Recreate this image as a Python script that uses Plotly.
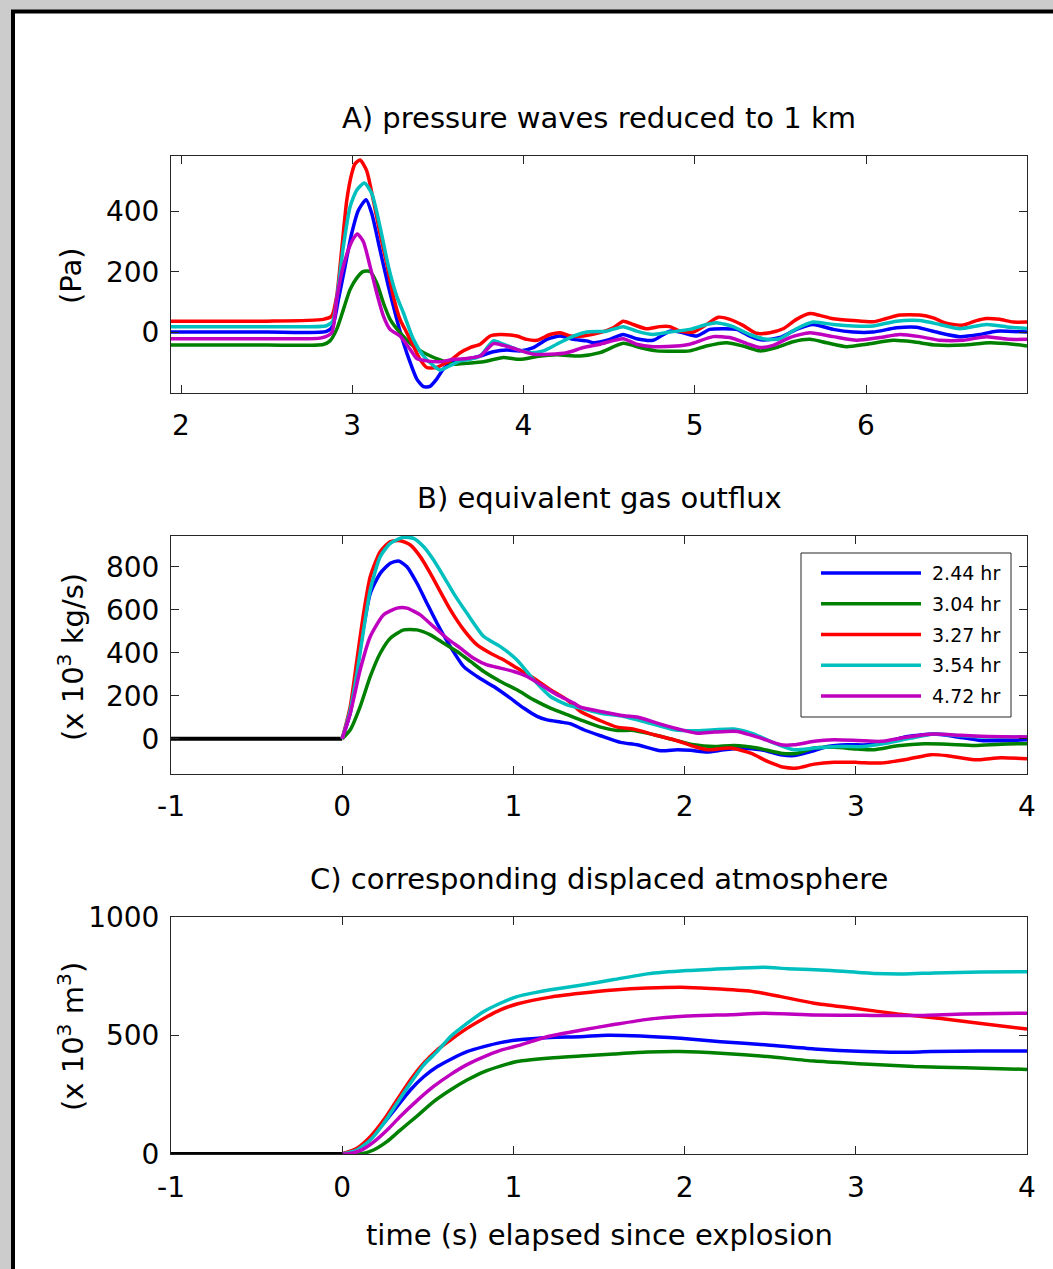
import plotly.graph_objects as go

W, H = 1053, 1269

labels = ["2.44 hr", "3.04 hr", "3.27 hr", "3.54 hr", "4.72 hr"]
colors = ["#0000ff", "#008000", "#ff0000", "#00bfbf", "#bf00bf"]

# ---------------- Panel A: pressure waves reduced to 1 km (Pa) ----------------
a_t_blue = [1.94, 2.5, 2.85, 2.886, 2.919, 2.958, 2.997, 3.036, 3.081, 3.114, 3.162, 3.211, 3.260, 3.299, 3.338, 3.377, 3.416, 3.454, 3.493, 3.532, 3.591, 3.669, 3.747, 3.824, 3.902, 3.980, 4.058, 4.136, 4.214, 4.292, 4.370, 4.407, 4.504, 4.582, 4.660, 4.757, 4.854, 4.932, 5.010, 5.088, 5.166, 5.243, 5.321, 5.399, 5.497, 5.594, 5.691, 5.808, 5.925, 6.041, 6.178, 6.294, 6.411, 6.547, 6.664, 6.761, 6.940]
a_v_blue = [1, 1, 3, 21, 108, 218, 327, 403, 438, 392, 272, 152, 43, -34, -99, -154, -179, -178, -154, -121, -94, -89, -78, -64, -58, -61, -50, -23, -12, -23, -28, -34, -23, -7, -21, -26, 4, -1, -12, 10, 12, 10, -12, -25, -17, 10, 26, 10, 1, 1, 15, 17, 1, -14, -7, 4, 1]

a_t_green = [1.94, 2.5, 2.83, 2.870, 2.909, 2.948, 2.987, 3.026, 3.065, 3.104, 3.143, 3.182, 3.221, 3.279, 3.357, 3.435, 3.513, 3.591, 3.669, 3.766, 3.883, 3.980, 4.078, 4.194, 4.331, 4.446, 4.582, 4.679, 4.776, 4.971, 5.068, 5.185, 5.282, 5.380, 5.477, 5.574, 5.672, 5.769, 5.886, 6.003, 6.158, 6.275, 6.411, 6.567, 6.723, 6.859, 6.940]
a_v_green = [-42, -42, -40, -28, 10, 75, 141, 179, 201, 201, 163, 97, 43, -1, -45, -72, -91, -105, -102, -97, -83, -89, -80, -74, -78, -67, -36, -50, -61, -61, -45, -34, -45, -61, -50, -31, -23, -34, -47, -39, -26, -31, -42, -42, -34, -39, -45]

a_t_red = [1.94, 2.5, 2.831, 2.880, 2.909, 2.938, 2.968, 2.997, 3.016, 3.046, 3.084, 3.123, 3.162, 3.201, 3.240, 3.279, 3.318, 3.357, 3.396, 3.435, 3.493, 3.532, 3.571, 3.630, 3.688, 3.747, 3.805, 3.863, 3.961, 4.019, 4.078, 4.155, 4.214, 4.272, 4.350, 4.446, 4.524, 4.582, 4.640, 4.718, 4.796, 4.854, 4.913, 4.991, 5.068, 5.137, 5.205, 5.282, 5.360, 5.438, 5.516, 5.594, 5.672, 5.730, 5.808, 5.925, 6.041, 6.119, 6.197, 6.314, 6.392, 6.469, 6.567, 6.645, 6.703, 6.781, 6.859, 6.940]
a_v_red = [37, 37, 43, 54, 119, 272, 436, 524, 556, 569, 534, 436, 327, 228, 119, 43, -1, -45, -89, -116, -116, -105, -94, -67, -50, -39, -12, -7, -12, -23, -26, -7, -1, -12, -12, -1, 15, 37, 26, 12, 19, 19, 4, 1, 26, 50, 43, 23, -3, -1, 12, 43, 62, 56, 45, 39, 35, 46, 57, 57, 48, 30, 24, 39, 46, 43, 34, 34]

a_t_cyan = [1.94, 2.5, 2.85, 2.886, 2.919, 2.948, 2.987, 3.026, 3.071, 3.114, 3.162, 3.211, 3.260, 3.299, 3.357, 3.416, 3.474, 3.513, 3.571, 3.630, 3.688, 3.747, 3.824, 3.883, 3.961, 4.039, 4.116, 4.194, 4.272, 4.370, 4.485, 4.582, 4.660, 4.757, 4.854, 4.971, 5.068, 5.127, 5.224, 5.321, 5.419, 5.497, 5.594, 5.691, 5.808, 5.925, 6.041, 6.178, 6.314, 6.431, 6.547, 6.703, 6.839, 6.940]
a_v_cyan = [19, 19, 22, 37, 152, 283, 414, 469, 493, 458, 349, 218, 119, 64, -23, -78, -110, -124, -110, -94, -89, -78, -28, -39, -56, -67, -61, -39, -17, 1, 4, 19, 4, -7, 1, 10, 26, 32, 19, -7, -23, -21, 12, 34, 26, 21, 21, 37, 39, 26, 12, 26, 17, 13]

a_t_mag = [1.94, 2.5, 2.82, 2.880, 2.909, 2.938, 2.977, 3.007, 3.030, 3.065, 3.104, 3.143, 3.182, 3.221, 3.279, 3.338, 3.377, 3.435, 3.513, 3.591, 3.669, 3.747, 3.824, 3.883, 3.961, 4.058, 4.155, 4.253, 4.350, 4.446, 4.582, 4.660, 4.757, 4.893, 4.971, 5.107, 5.205, 5.302, 5.380, 5.458, 5.555, 5.672, 5.808, 5.944, 6.080, 6.197, 6.314, 6.431, 6.567, 6.703, 6.839, 6.940]
a_v_mag = [-21, -21, -18, -1, 108, 196, 272, 310, 325, 299, 218, 130, 54, 10, -12, -56, -86, -94, -97, -89, -86, -78, -37, -43, -56, -72, -72, -67, -50, -39, -21, -39, -47, -45, -39, -14, -17, -36, -50, -43, -17, -1, -14, -26, -17, -7, -14, -26, -26, -14, -23, -23]

# ---------------- Panel B: equivalent gas outflux (x 10^3 kg/s) ----------------
pre_t = [-1, 0]
pre_v = [0, 0]

b_t_blue = [0, 0.047, 0.086, 0.125, 0.164, 0.222, 0.281, 0.329, 0.378, 0.437, 0.495, 0.554, 0.632, 0.710, 0.788, 0.885, 0.982, 1.060, 1.138, 1.197, 1.275, 1.333, 1.411, 1.509, 1.626, 1.723, 1.860, 1.957, 2.035, 2.133, 2.230, 2.328, 2.445, 2.562, 2.640, 2.737, 2.835, 2.951, 3.068, 3.185, 3.302, 3.458, 3.575, 3.731, 3.868, 4.0]
b_v_blue = [0, 119, 321, 522, 677, 770, 817, 828, 801, 724, 631, 538, 429, 336, 290, 243, 189, 143, 104, 88, 78, 70, 42, 14, -17, -28, -56, -51, -54, -62, -51, -45, -51, -74, -78, -59, -36, -28, -28, -12, 11, 22, 11, -8, -9, -5]

b_t_green = [0, 0.047, 0.105, 0.164, 0.222, 0.281, 0.359, 0.437, 0.515, 0.593, 0.671, 0.749, 0.827, 0.924, 1.021, 1.119, 1.216, 1.314, 1.392, 1.509, 1.606, 1.704, 1.821, 1.938, 2.055, 2.172, 2.289, 2.425, 2.562, 2.659, 2.757, 2.873, 3.010, 3.107, 3.244, 3.400, 3.536, 3.692, 3.848, 4.0]
b_v_green = [0, 42, 150, 290, 398, 468, 507, 507, 484, 445, 406, 360, 313, 267, 228, 181, 143, 112, 88, 54, 39, 39, 19, -5, -28, -36, -31, -43, -67, -67, -43, -40, -48, -51, -33, -23, -25, -31, -25, -23]

b_t_red = [0, 0.047, 0.086, 0.125, 0.164, 0.222, 0.281, 0.339, 0.398, 0.456, 0.515, 0.573, 0.632, 0.710, 0.788, 0.866, 0.944, 1.021, 1.119, 1.216, 1.314, 1.392, 1.509, 1.606, 1.704, 1.821, 1.957, 2.055, 2.133, 2.269, 2.386, 2.484, 2.581, 2.659, 2.757, 2.873, 3.010, 3.146, 3.302, 3.439, 3.536, 3.692, 3.848, 4.0]
b_v_red = [0, 150, 367, 584, 755, 871, 918, 922, 902, 848, 770, 685, 600, 507, 437, 398, 367, 329, 282, 228, 181, 127, 84, 54, 45, 19, -9, -36, -51, -43, -67, -105, -133, -136, -118, -109, -110, -113, -95, -74, -79, -98, -88, -93]

b_t_cyan = [0, 0.047, 0.086, 0.125, 0.164, 0.222, 0.281, 0.359, 0.417, 0.476, 0.534, 0.593, 0.651, 0.729, 0.827, 0.924, 1.021, 1.119, 1.216, 1.314, 1.392, 1.509, 1.645, 1.782, 1.938, 2.055, 2.172, 2.289, 2.406, 2.523, 2.640, 2.757, 2.893, 3.049, 3.185, 3.322, 3.458, 3.614, 3.770, 4.0]
b_v_cyan = [0, 135, 305, 507, 693, 848, 910, 938, 933, 894, 832, 755, 677, 584, 476, 429, 367, 274, 197, 158, 143, 119, 104, 76, 42, 37, 42, 45, 22, -20, -51, -43, -36, -36, -20, 3, 22, 14, 8, 8]

b_t_mag = [0, 0.047, 0.105, 0.164, 0.242, 0.320, 0.378, 0.456, 0.534, 0.612, 0.690, 0.768, 0.846, 0.924, 1.002, 1.080, 1.177, 1.255, 1.353, 1.392, 1.509, 1.645, 1.723, 1.840, 1.957, 2.074, 2.172, 2.308, 2.445, 2.562, 2.640, 2.757, 2.873, 3.010, 3.146, 3.302, 3.458, 3.614, 3.770, 4.0]
b_v_mag = [0, 119, 321, 476, 577, 608, 608, 577, 522, 468, 422, 375, 344, 329, 313, 290, 243, 205, 166, 147, 127, 107, 101, 73, 47, 26, 31, 34, 3, -28, -28, -12, -5, -8, -12, 8, 22, 16, 11, 8]

# ---------------- Panel C: corresponding displaced atmosphere (x 10^3 m^3) ----------------
c_t_blue = [0, 0.086, 0.164, 0.242, 0.320, 0.398, 0.476, 0.554, 0.632, 0.729, 0.827, 0.924, 1.021, 1.216, 1.392, 1.548, 1.743, 1.977, 2.211, 2.484, 2.757, 3.049, 3.244, 3.439, 3.731, 4.0]
c_v_blue = [0, 20, 66, 129, 200, 270, 326, 368, 399, 432, 453, 470, 481, 492, 495, 501, 498, 488, 474, 460, 443, 432, 429, 432, 435, 435]

c_t_green = [0, 0.105, 0.183, 0.261, 0.339, 0.437, 0.534, 0.632, 0.729, 0.827, 0.924, 1.021, 1.216, 1.392, 1.587, 1.782, 1.977, 2.211, 2.484, 2.757, 3.049, 3.341, 3.634, 4.0]
c_v_green = [0, 0, 17, 52, 101, 160, 221, 270, 312, 347, 371, 390, 405, 413, 422, 430, 432, 425, 411, 392, 380, 369, 364, 357]

c_t_red = [0, 0.086, 0.164, 0.242, 0.320, 0.398, 0.476, 0.554, 0.632, 0.729, 0.827, 0.924, 1.021, 1.216, 1.392, 1.587, 1.782, 2.016, 2.211, 2.406, 2.562, 2.757, 2.990, 3.244, 3.497, 3.731, 4.0]
c_v_red = [0, 24, 73, 143, 228, 312, 383, 439, 481, 530, 572, 608, 633, 662, 678, 692, 700, 703, 696, 685, 664, 636, 615, 591, 572, 551, 527]

c_t_cyan = [0, 0.086, 0.164, 0.242, 0.320, 0.398, 0.476, 0.554, 0.632, 0.729, 0.827, 0.924, 1.021, 1.119, 1.216, 1.392, 1.587, 1.782, 2.016, 2.269, 2.464, 2.601, 2.854, 3.107, 3.283, 3.458, 3.731, 4.0]
c_v_cyan = [0, 17, 59, 129, 214, 298, 376, 432, 495, 551, 601, 636, 664, 680, 693, 712, 736, 760, 774, 783, 788, 782, 774, 762, 760, 764, 768, 769]

c_t_mag = [0, 0.027, 0.105, 0.183, 0.261, 0.339, 0.437, 0.534, 0.632, 0.729, 0.827, 0.924, 1.021, 1.119, 1.216, 1.392, 1.587, 1.782, 2.016, 2.269, 2.464, 2.757, 3.049, 3.341, 3.634, 4.0]
c_v_mag = [0, 0, 14, 50, 100, 158, 225, 285, 335, 377, 410, 437, 456, 478, 498, 522, 546, 568, 582, 588, 594, 587, 585, 584, 591, 594]

# tick values / labels
a_xticks = [2, 3, 4, 5, 6]
a_xticktext = ["2", "3", "4", "5", "6"]
a_yticks = [0, 200, 400]
a_yticktext = ["0", "200", "400"]
a_yminor = [-200]
t_xticks = [-1, 0, 1, 2, 3, 4]
t_xticktext = ["-1", "0", "1", "2", "3", "4"]
b_yticks = [0, 200, 400, 600, 800]
b_yticktext = ["0", "200", "400", "600", "800"]
b_yminor = [-164]
c_yticks = [0, 500, 1000]
c_yticktext = ["0", "500", "1000"]

# ---------------- figure ----------------
FONT = "DejaVu Sans"
def X(px):
    return px / W
def Y(py):
    return 1 - py / H

LW = 3.5
fig = go.Figure()

panelA = [(a_t_blue, a_v_blue), (a_t_green, a_v_green), (a_t_red, a_v_red),
          (a_t_cyan, a_v_cyan), (a_t_mag, a_v_mag)]
panelB = [(b_t_blue, b_v_blue), (b_t_green, b_v_green), (b_t_red, b_v_red),
          (b_t_cyan, b_v_cyan), (b_t_mag, b_v_mag)]
panelC = [(c_t_blue, c_v_blue), (c_t_green, c_v_green), (c_t_red, c_v_red),
          (c_t_cyan, c_v_cyan), (c_t_mag, c_v_mag)]

for (t, v), c, n in zip(panelA, colors, labels):
    fig.add_trace(go.Scatter(x=t, y=v, mode="lines", name=n, xaxis="x", yaxis="y",
                             line=dict(color=c, width=LW, shape="spline", smoothing=0.6)))

fig.add_trace(go.Scatter(x=pre_t, y=pre_v, mode="lines", xaxis="x2", yaxis="y2",
                         line=dict(color="black", width=4)))
for (t, v), c, n in zip(panelB, colors, labels):
    fig.add_trace(go.Scatter(x=t, y=v, mode="lines", name=n, xaxis="x2", yaxis="y2",
                             line=dict(color=c, width=LW, shape="spline", smoothing=0.6)))

fig.add_trace(go.Scatter(x=pre_t, y=pre_v, mode="lines", xaxis="x3", yaxis="y3",
                         line=dict(color="black", width=4)))
for (t, v), c, n in zip(panelC, colors, labels):
    fig.add_trace(go.Scatter(x=t, y=v, mode="lines", name=n, xaxis="x3", yaxis="y3",
                             line=dict(color=c, width=LW, shape="spline", smoothing=0.6)))

xdom = [X(171), X(1027)]
common = dict(showline=True, linecolor="#262626", linewidth=1, mirror="ticks",
              ticks="inside", ticklen=8, tickwidth=1.2, tickcolor="#262626",
              showgrid=False, zeroline=False, automargin=False,
              tickfont=dict(family=FONT, size=28, color="black"))

fig.update_layout(
    template="none",
    width=W, height=H,
    margin=dict(l=0, r=0, t=0, b=0, pad=0, autoexpand=False),
    paper_bgcolor="#cccccc", plot_bgcolor="white",
    showlegend=False,
    xaxis=dict(domain=xdom, anchor="y", range=[1.9416, 6.940], tickvals=a_xticks,
               ticktext=a_xticktext, ticklabelstandoff=7, **common),
    yaxis=dict(domain=[Y(393), Y(156)], anchor="x", range=[-200, 582],
               tickvals=a_yticks, ticktext=a_yticktext, ticklabelstandoff=5,
               minor=dict(tickvals=a_yminor, ticks="inside", ticklen=8, tickwidth=1.2,
                          tickcolor="#262626", showgrid=False), **common),
    xaxis2=dict(domain=xdom, anchor="y2", range=[-1, 4], tickvals=t_xticks,
                ticktext=t_xticktext, ticklabelstandoff=7, **common),
    yaxis2=dict(domain=[Y(774), Y(536)], anchor="x2", range=[-164, 944],
                tickvals=b_yticks, ticktext=b_yticktext, ticklabelstandoff=5,
                minor=dict(tickvals=b_yminor, ticks="inside", ticklen=8, tickwidth=1.2,
                           tickcolor="#262626", showgrid=False), **common),
    xaxis3=dict(domain=xdom, anchor="y3", range=[-1, 4], tickvals=t_xticks,
                ticktext=t_xticktext, ticklabelstandoff=8, **common),
    yaxis3=dict(domain=[Y(1154), Y(917)], anchor="x3", range=[0, 1000],
                tickvals=c_yticks, ticktext=c_yticktext, ticklabelstandoff=5, **common),
)

shapes = [
    # white figure sheet with black frame
    dict(type="rect", xref="paper", yref="paper", x0=X(13), x1=1.05, y0=-0.05, y1=Y(11.5),
         line=dict(color="black", width=4), fillcolor="white", layer="below"),
    # legend box
    dict(type="rect", xref="paper", yref="paper", x0=X(801), x1=X(1011), y0=Y(717), y1=Y(553),
         line=dict(color="#262626", width=1), fillcolor="white", layer="above"),
]
annotations = []
for i, (c, n) in enumerate(zip(colors, labels)):
    ry = 573 + i * 30.75
    shapes.append(dict(type="line", xref="paper", yref="paper", x0=X(821), x1=X(921),
                       y0=Y(ry), y1=Y(ry), line=dict(color=c, width=LW), layer="above"))
    annotations.append(dict(text=n, xref="paper", yref="paper", x=X(930), y=Y(ry),
                            xanchor="left", yanchor="middle", showarrow=False,
                            font=dict(family=FONT, size=19, color="black")))

def txt(s, px, py, size=29, angle=0):
    return dict(text=s, xref="paper", yref="paper", x=X(px), y=Y(py), xanchor="center",
                yanchor="middle", showarrow=False, textangle=angle,
                font=dict(family=FONT, size=size, color="black"))

annotations += [
    txt("A) pressure waves reduced to 1 km", 599, 118),
    txt("B) equivalent gas outflux", 599, 498),
    txt("C) corresponding displaced atmosphere", 599, 879),
    txt("time (s) elapsed since explosion", 599, 1235),
    txt("(Pa)", 71, 276, angle=-90),
    txt("(x 10<sup>3</sup> kg/s)", 71, 657, angle=-90),
    txt("(x 10<sup>3</sup> m<sup>3</sup>)", 71, 1037, angle=-90),
]
fig.update_layout(shapes=shapes, annotations=annotations)

fig.write_html("out.html",
               config={"displayModeBar": False},
               post_script="document.body.style.margin='0';document.body.style.padding='0';"
                           "document.body.style.overflow='hidden';")
